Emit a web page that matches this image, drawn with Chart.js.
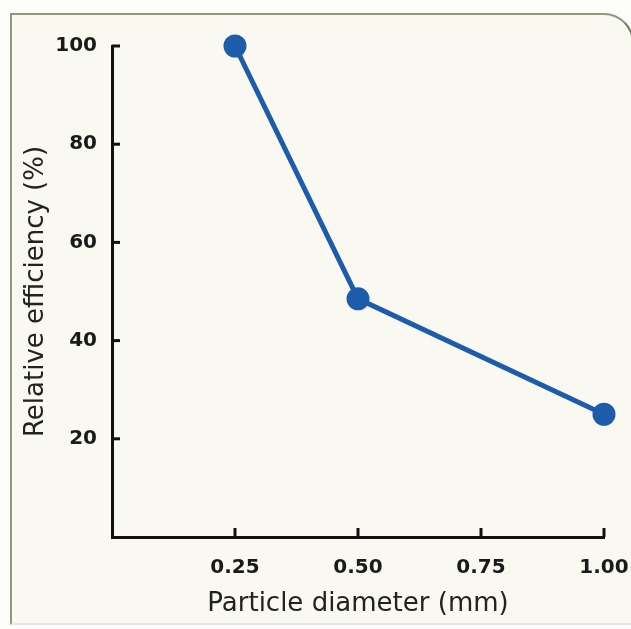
<!DOCTYPE html>
<html>
<head>
<meta charset="utf-8">
<script src="https://cdn.jsdelivr.net/npm/chart.js@4/dist/chart.umd.min.js"></script>
<style>
  html, body { margin: 0; padding: 0; background: #fdfdf9; }
  #wrap { position: relative; width: 631px; height: 629px; overflow: hidden; }
  #frame {
    position: absolute; left: 10px; top: 13px; width: 620px; height: 608px;
    background: #f9f9f1;
    border-left: 2px solid #8c9a82;
    border-top: 2px solid #8c9a82;
    border-right: 2px solid #6f7a6a;
    border-bottom: 2px solid #f1dff0;
    border-top-right-radius: 30px;
  }
  canvas { position: absolute; left: 0; top: 0; }
</style>
</head>
<body>
<div id="wrap">
  <div id="frame"></div>
  <canvas id="myChart" width="631" height="629"></canvas>
</div>
<script>
// particle diameter (mm) vs relative efficiency (%)
const diameters = [0.25, 0.50, 1.00]
const efficiency = [100, 48.5, 25]

const xTicks = [0.25, 0.50, 0.75, 1.00]
const yTicks = [20, 40, 60, 80, 100]

const lineColor = '#1c5caa'

// short tick marks drawn inward, like the original
const innerTicks = {
    id: 'innerTicks',
    beforeDatasetsDraw(chart) {
        const ctx = chart.ctx
        const x = chart.scales.x
        const y = chart.scales.y
        ctx.save()
        ctx.strokeStyle = '#111'
        ctx.lineWidth = 3
        xTicks.forEach((v) => {
            const px = x.getPixelForValue(v)
            ctx.beginPath()
            ctx.moveTo(px, y.bottom)
            ctx.lineTo(px, y.bottom - 9)
            ctx.stroke()
        })
        yTicks.forEach((v) => {
            const py = y.getPixelForValue(v)
            ctx.beginPath()
            ctx.moveTo(x.left, py)
            ctx.lineTo(x.left + 8, py)
            ctx.stroke()
        })
        ctx.restore()
    }
}

const data = {
    datasets: [{
        label: 'Relative efficiency',
        data: diameters.map((d, i) => ({ x: d, y: efficiency[i] })),
        borderColor: lineColor,
        backgroundColor: lineColor,
        borderWidth: 5,
        pointRadius: 9,
        pointHoverRadius: 9,
        clip: false,
        tension: 0
    }]
}

const config = {
    type: 'line',
    data: data,
    plugins: [innerTicks],
    options: {
        responsive: false,
        animation: false,
        layout: { padding: { top: 46, right: 27, left: 0, bottom: 0 } },
        plugins: {
            legend: { display: false },
            tooltip: { enabled: false }
        },
        scales: {
            x: {
                type: 'linear',
                min: 0,
                max: 1,
                grid: { display: false, drawTicks: false },
                border: { color: '#111', width: 3 },
                afterBuildTicks: (s) => { s.ticks = xTicks.map((v) => ({ value: v })) },
                afterFit: (s) => { s.height = 92; s.paddingLeft = 0; s.paddingRight = 0 },
                ticks: {
                    color: '#1a1a1a',
                    padding: 19,
                    maxRotation: 0,
                    font: { family: 'DejaVu Sans', size: 20, weight: 'bold' },
                    callback: (v) => Number(v).toFixed(2)
                },
                title: {
                    display: true,
                    text: 'Particle diameter (mm)',
                    color: '#222',
                    padding: { top: 0, bottom: 9 },
                    font: { family: 'DejaVu Sans', size: 26 }
                }
            },
            y: {
                min: 0,
                max: 100,
                grid: { display: false, drawTicks: false },
                border: { color: '#111', width: 3 },
                afterBuildTicks: (s) => { s.ticks = yTicks.map((v) => ({ value: v })) },
                afterFit: (s) => { s.width = 112 },
                ticks: {
                    color: '#1a1a1a',
                    padding: 15,
                    font: { family: 'DejaVu Sans', size: 20, weight: 'bold' }
                },
                title: {
                    display: true,
                    text: 'Relative efficiency (%)',
                    color: '#222',
                    padding: { top: 21, bottom: 0 },
                    font: { family: 'DejaVu Sans', size: 26 }
                }
            }
        }
    }
}

const myChart = new Chart(document.getElementById('myChart'), config)
</script>
</body>
</html>
